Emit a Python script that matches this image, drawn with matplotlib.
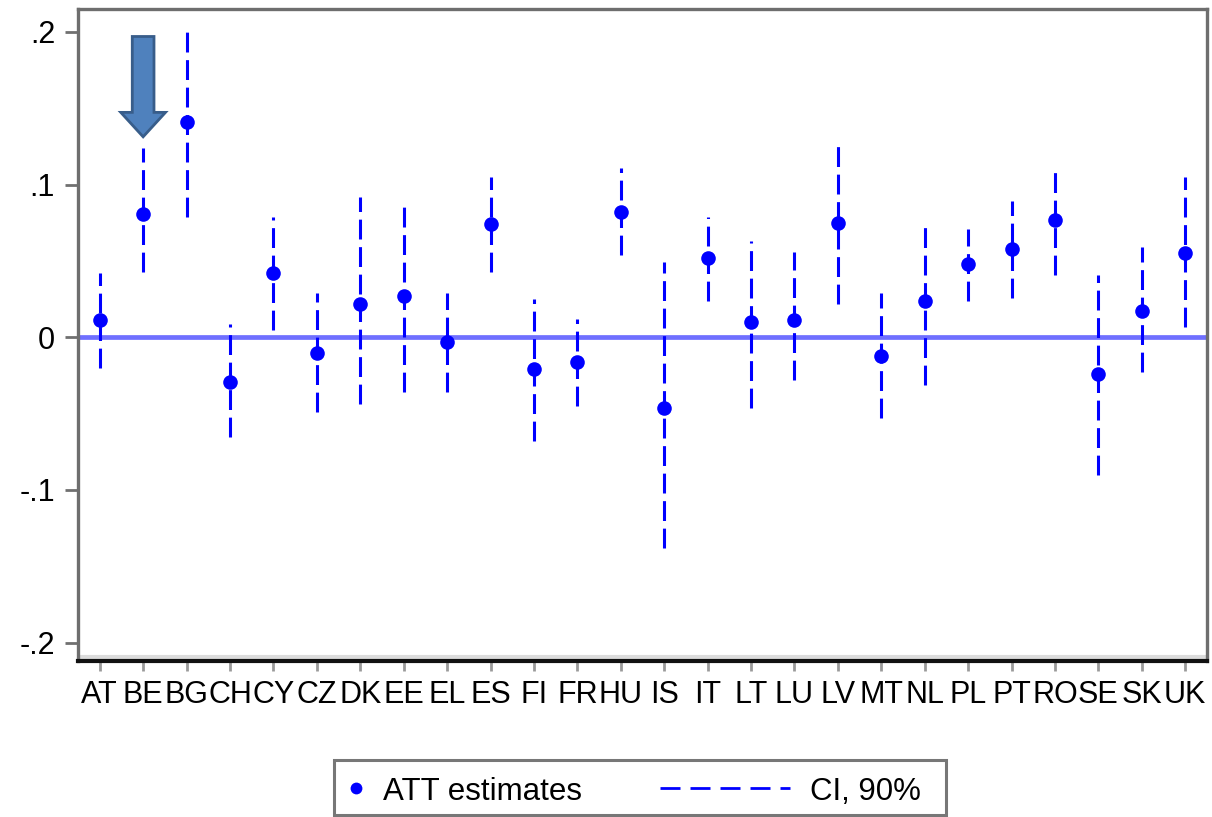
import numpy as np
import matplotlib
matplotlib.use("Agg")
import matplotlib.pyplot as plt
from matplotlib.patches import FancyArrow, Rectangle
from matplotlib.lines import Line2D

plt.rcParams['font.family'] = ['Liberation Sans', 'DejaVu Sans']

# country codes and ATT estimates with 90% CI
codes = ["AT", "BE", "BG", "CH", "CY", "CZ", "DK", "EE", "EL", "ES", "FI", "FR", "HU",
         "IS", "IT", "LT", "LU", "LV", "MT", "NL", "PL", "PT", "RO", "SE", "SK", "UK"]
att = [0.011, 0.081, 0.141, -0.029, 0.042, -0.010, 0.022, 0.027, -0.003, 0.074, -0.021, -0.016, 0.082,
       -0.046, 0.052, 0.010, 0.011, 0.075, -0.012, 0.024, 0.048, 0.058, 0.077, -0.024, 0.017, 0.055]
ci_lo = [-0.020, 0.043, 0.079, -0.065, 0.005, -0.049, -0.044, -0.036, -0.036, 0.043, -0.068, -0.045, 0.054,
         -0.138, 0.024, -0.046, -0.028, 0.022, -0.053, -0.031, 0.024, 0.026, 0.041, -0.090, -0.023, 0.007]
ci_hi = [0.042, 0.124, 0.204, 0.009, 0.079, 0.029, 0.092, 0.089, 0.029, 0.105, 0.025, 0.012, 0.111,
         0.049, 0.079, 0.063, 0.056, 0.129, 0.029, 0.077, 0.071, 0.089, 0.112, 0.041, 0.059, 0.105]
yticks = [-0.2, -0.1, 0, 0.1, 0.2]
ytick_labels = ["-.2", "-.1", "0", ".1", ".2"]

W, H = 1212, 817
x = np.arange(1, len(codes) + 1)
narrow = ['Liberation Sans Narrow', 'Liberation Sans', 'DejaVu Sans']

fig = plt.figure(figsize=(W / 100, H / 100), dpi=100)
ax = fig.add_axes([78 / W, 1 - 661 / H, (1207 - 78) / W, (661 - 9) / H])

# zero reference line
ax.axhline(0, color="#6f6fff", lw=3.4, zorder=1)

# confidence intervals
ax.vlines(x, ci_lo, ci_hi, color="#0000ff", lw=2.2, linestyles=(0, (6.5, 2.5)), zorder=2)

# point estimates
ax.plot(x, att, "o", color="#0000ff", ms=10.5, mew=0, zorder=3)

# arrow pointing at BE
ax.add_patch(FancyArrow(2, 0.197, 0, -0.0657, width=0.5, head_width=1.03, head_length=0.016,
                        length_includes_head=True, facecolor="#4f81bd", edgecolor="#385d8a",
                        lw=2, zorder=4))

ax.set_xlim(0.5, 26.5)
ax.set_ylim(-0.212, 0.215)
ax.set_xticks(x)
ax.set_xticklabels(codes, fontsize=22, family=narrow)
ax.set_yticks(yticks)
ax.set_yticklabels(ytick_labels, fontsize=22, family=narrow)
ax.tick_params(axis="y", direction="out", length=9.5, width=2, color="#707070", pad=7)
ax.tick_params(axis="x", direction="out", length=7.5, width=2, color="#9a9a9a", pad=6)

for side in ["left", "top", "right"]:
    ax.spines[side].set_color("#6e6e6e")
    ax.spines[side].set_linewidth(2.4)
ax.spines["bottom"].set_color("#111111")
ax.spines["bottom"].set_linewidth(3)
# light band just above the x axis
ax.plot([0, 1], [0.006, 0.006], transform=ax.transAxes, color="#dcdcdc", lw=3, zorder=0)

# legend box drawn by hand (pixel positions of the reference)
def fx(px):
    return px / W

def fy(py):
    return 1 - py / H

fig.add_artist(Rectangle((fx(334), fy(815)), fx(946) - fx(334), fy(760) - fy(815),
                         transform=fig.transFigure, facecolor="white", edgecolor="#777777", lw=2.2))
fig.add_artist(Line2D([fx(356)], [fy(788)], marker="o", ms=8.5, mew=0, color="#0000ff",
                      transform=fig.transFigure))
fig.text(fx(383), fy(788), "ATT estimates", fontsize=22.5, va="center_baseline", ha="left")
fig.add_artist(Line2D([fx(660), fx(790)], [fy(788), fy(788)], color="#0000ff", lw=2,
                      ls=(0, (7.2, 3.6)), transform=fig.transFigure))
fig.text(fx(810), fy(788), "CI, 90%", fontsize=22.5, va="center_baseline", ha="left")

fig.savefig("out.png", dpi=100)
